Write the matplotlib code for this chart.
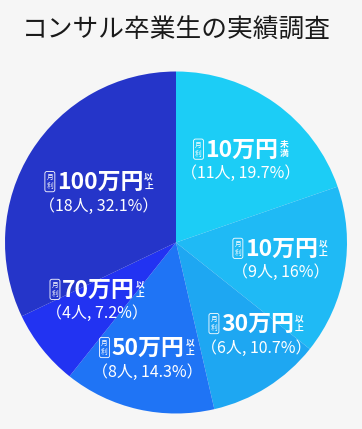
import matplotlib
matplotlib.use("Agg")
import matplotlib.pyplot as plt

plt.rcParams['font.family'] = ['Noto Sans CJK JP', 'DejaVu Sans']

title = 'コンサル卒業生の実績調査'
amounts = ['10万円', '10万円', '30万円', '50万円', '70万円', '100万円']
suffixes = ['未満', '以上', '以上', '以上', '以上', '以上']
people = [11, 9, 6, 8, 4, 18]
shares = [19.7, 16, 10.7, 14.3, 7.2, 32.1]
share_text = ['19.7', '16', '10.7', '14.3', '7.2', '32.1']
colors = ['#1ccdf6', '#1fbaf5', '#1ea7f2', '#1f74f5', '#2233f2', '#2535c9']

# label group centres (x, y of first line) in pie units, radius = 1
label_xy = [(0.38, 0.54), (0.61, -0.04), (0.47, -0.48), (-0.17, -0.62),
            (-0.46, -0.28), (-0.45, 0.35)]

bg = '#f6f6f6'
fig = plt.figure(figsize=(3.62, 4.29), dpi=100, facecolor=bg)
ax = fig.add_axes([5 / 362, 15.5 / 429, 342 / 362, 342 / 429])
ax.set_facecolor(bg)
ax.pie(shares, colors=colors, startangle=90, counterclock=False, radius=1,
       wedgeprops=dict(linewidth=0))
ax.set_xlim(-1, 1)
ax.set_ylim(-1, 1)
ax.axis('off')

fig.text(176 / 362, 1 - 30 / 429, title, fontsize=18.5, ha='center', va='center',
         color='#1a1a1a')

fig.canvas.draw()
renderer = fig.canvas.get_renderer()

box_w = 8
for i in range(len(amounts)):
    cx, cy = label_xy[i]
    main = ax.annotate(amounts[i], (cx, cy), xytext=(0, 0), textcoords='offset pixels',
                       ha='left', va='center', fontsize=16.5, fontweight='bold',
                       color='white')
    w = main.get_window_extent(renderer).width
    suf_w = 8
    total = box_w + 3 + w + 1 + suf_w
    x0 = -total / 2
    main.xyann = (x0 + box_w + 3, 0)
    ax.annotate('月\n利', (cx, cy), xytext=(x0 + box_w / 2, 1), textcoords='offset pixels',
                ha='center', va='center', fontsize=4.8, linespacing=1.15, color='white',
                bbox=dict(boxstyle='round,pad=0.25,rounding_size=0.3', fc='none',
                          ec='white', lw=0.6))
    ax.annotate(suffixes[i][0] + '\n' + suffixes[i][1], (cx, cy),
                xytext=(x0 + box_w + 3 + w + 1, 1), textcoords='offset pixels',
                ha='left', va='center', fontsize=6.3, fontweight='bold',
                linespacing=1.05, color='white')
    ax.annotate('（%d人, %s%%）' % (people[i], share_text[i]), (cx, cy),
                xytext=(0, -23.5), textcoords='offset pixels', ha='center',
                va='center', fontsize=11.5, color='white')

fig.savefig('out.png', dpi=100, facecolor=bg)
